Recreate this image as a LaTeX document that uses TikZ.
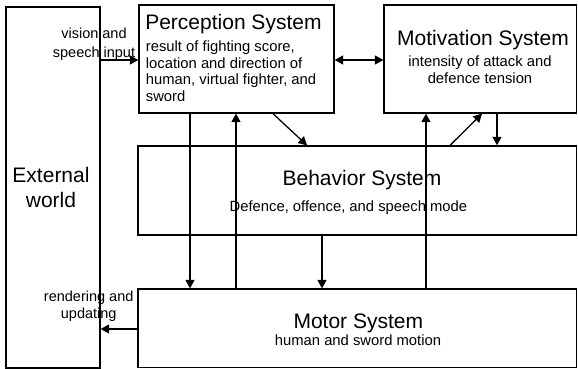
\documentclass[tikz,border=0pt]{standalone}
\usepackage{fontspec}
\setmainfont{Liberation Sans}
\usetikzlibrary{arrows.meta}

\tikzset{
	box/.style={draw,line width=1.3pt,inner sep=0pt},
	head/.style={font=\fontsize{21}{25}\selectfont,inner sep=0pt},
	body/.style={font=\fontsize{14.8}{16.5}\selectfont,inner sep=0pt},
	tip/.tip={Triangle[length=8.5pt,width=9pt]},
	arr/.style={-tip,line width=1.3pt},
	dblarr/.style={tip-tip,line width=1.3pt}
}

\begin{document}
\begin{tikzpicture}[x=1pt,y=-1pt]
\useasboundingbox (0,0) rectangle (578,369);

% the boxes
\node (world)[box,minimum width=94pt,minimum height=361pt] at (53,187.5){};
\node (percep)[box,minimum width=195pt,minimum height=108pt] at (236.5,59){};
\node (motiv)[box,minimum width=192.5pt,minimum height=108pt] at (480.3,59){};
\node (behav)[box,minimum width=438.5pt,minimum height=89pt] at (357.3,190.5){};
\node (motor)[box,minimum width=438.5pt,minimum height=78.5pt] at (357.3,328.3){};

% the texts
\node (worldtxt)[head,align=center,anchor=north] at (51,167){External\\world};
\node (percephead)[head,anchor=base west] at (145.1,30){Perception System};
\node (percepbody)[body,align=left,anchor=north west] at (145.7,40.9){result of fighting score,\\
	location and direction of\\
	human, virtual fighter, and\\
	sword};
\node (motivhead)[head,anchor=base] at (483,45.7){Motivation System};
\node (motivbody)[body,align=center,anchor=north,
	font=\fontsize{14.8}{17.3}\selectfont] at (480,55.4){intensity of attack and\\
	defence tension};
\node (behavhead)[head,anchor=base] at (362,185){Behavior System};
\node (behavbody)[body,anchor=base] at (348.4,211){Defence, offence, and speech mode};
\node (motorhead)[head,anchor=base] at (358.3,328.3){Motor System};
\node (motorbody)[body,anchor=base] at (358,345.7){human and sword motion};

% draw the connections
\draw[arr] (world.east |- 0,60) -- (percep.west |- 0,60);
\draw[dblarr] (percep.east |- 0,60) -- (motiv.west |- 0,60);
\draw[arr] (273,0 |- percep.south) -- (307,0 |- behav.north);
\draw[arr] (190,0 |- percep.south) -- (190,0 |- motor.north);
\draw[arr] (236,0 |- motor.north) -- (236,0 |- percep.south);
\draw[arr] (322,0 |- behav.south) -- (322,0 |- motor.north);
\draw[arr] (426,0 |- motor.north) -- (426,0 |- motiv.south);
\draw[arr] (450,0 |- behav.north) -- (482,0 |- motiv.south);
\draw[arr] (497,0 |- motiv.south) -- (497,0 |- behav.north);
\draw[arr] (motor.west |- 0,329) -- (world.east |- 0,329);

% labels of the outside arrows
\node (visionlbl)[body,align=center,anchor=north,
	font=\fontsize{14.5}{19}\selectfont] at (94,27.6){vision and\\speech input};
\node (renderlbl)[body,align=center,anchor=north,
	font=\fontsize{14.5}{17.5}\selectfont] at (88.7,290.3){rendering and\\updating};
\end{tikzpicture}
\end{document}
